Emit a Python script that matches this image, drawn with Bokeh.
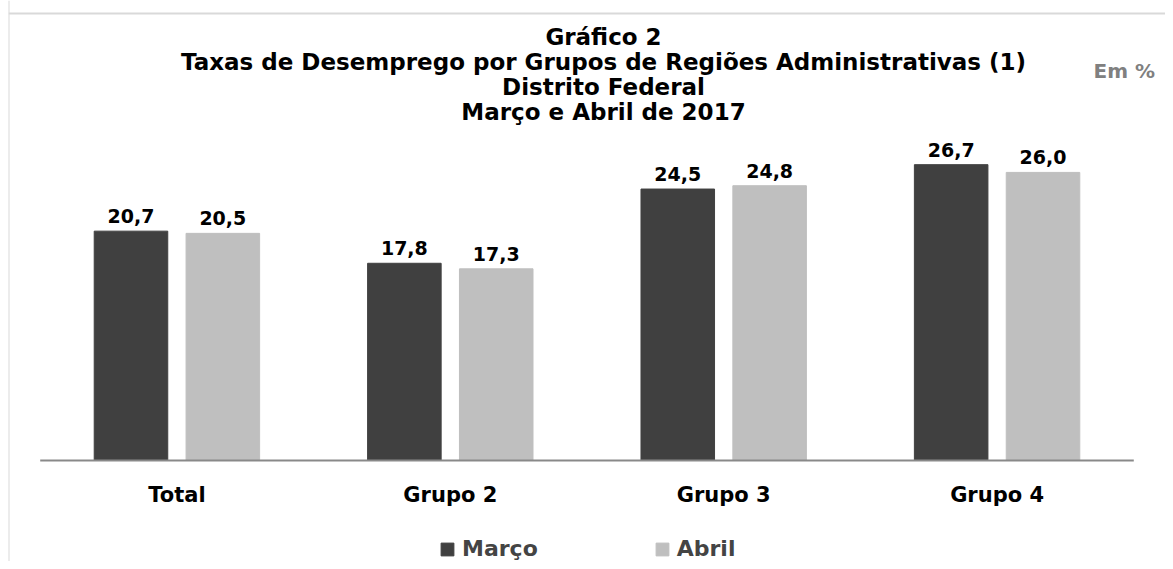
from bokeh.plotting import figure
from bokeh.models import FactorRange, Range1d, Label, Legend, LegendItem, Span, ColumnDataSource
from bokeh.transform import dodge
from bokeh.core.properties import value
from bokeh.embed import file_html
from bokeh.resources import INLINE

# ---- data ----
categories = ["Total", "Grupo 2", "Grupo 3", "Grupo 4"]
marco = [20.7, 17.8, 24.5, 26.7]
abril = [20.5, 17.3, 24.8, 26.0]
series_names = ["Março", "Abril"]
title_lines = [
    "Gráfico 2",
    "Taxas de Desemprego por Grupos de Regiões Administrativas (1)",
    "Distrito Federal",
    "Março e Abril de 2017",
]
unit_label = "Em %"

marco_labels = [f"{v:.1f}".replace(".", ",") for v in marco]
abril_labels = [f"{v:.1f}".replace(".", ",") for v in abril]

# ---- layout ----
W, H = 1165, 561
LEFT = 8
PAD = 0.116
PX_PER_UNIT = 11.08
ZERO_FROM_TOP = 460
y_top = ZERO_FROM_TOP / PX_PER_UNIT
y_bot = -(H - ZERO_FROM_TOP) / PX_PER_UNIT

DARK = "#404040"
LIGHT = "#bfbfbf"
LABEL_FONT = "DejaVu Sans"
TITLE_FONT = "DejaVu Sans"

p = figure(
    width=W, height=H,
    x_range=FactorRange(factors=categories, range_padding=PAD, range_padding_units="absolute"),
    y_range=Range1d(y_bot, y_top),
    x_axis_location=None, y_axis_location=None,
    output_backend="svg", toolbar_location=None,
    min_border_left=LEFT, min_border_right=0, min_border_top=0, min_border_bottom=0,
)
p.grid.visible = False
p.outline_line_color = None
p.background_fill_color = "white"
p.border_fill_color = "white"

# chart-area border (left and top only visible in the reference)
p.add_layout(Span(location=y_top - 13 / PX_PER_UNIT, dimension="width", line_color="#d9d9d9", line_width=2))
p.add_layout(Span(location=-PAD, dimension="height", line_color="#d9d9d9", line_width=2))

src = ColumnDataSource(dict(cat=categories, marco=marco, abril=abril, ml=marco_labels, al=abril_labels))

OFF = 0.168
BW = 0.269
r1 = p.vbar(x=dodge("cat", -OFF, range=p.x_range), top="marco", bottom=0, width=BW,
            source=src, fill_color=DARK, line_color=DARK)
r2 = p.vbar(x=dodge("cat", OFF, range=p.x_range), top="abril", bottom=0, width=BW,
            source=src, fill_color=LIGHT, line_color=LIGHT)

# category axis line
p.segment(x0=0, y0=0, x1=len(categories), y1=0, line_color="#898989", line_width=2)

# value labels
for col, lab, off in (("marco", "ml", -OFF), ("abril", "al", OFF)):
    p.text(x=dodge("cat", off, range=p.x_range), y=col, text=lab,
           source=src, text_align="center", text_baseline="alphabetic", y_offset=-15,
           text_font=value(LABEL_FONT), text_font_style="bold", text_font_size="19px",
           text_color="black")

# category labels
p.text(x="cat", y=0, text="cat", source=src, text_align="center", text_baseline="alphabetic",
       y_offset=34, text_font=value(LABEL_FONT), text_font_style="bold",
       text_font_size="21px", text_color="black")

# title lines
title_y = [H - 36, H - 61, H - 86, H - 111]
for t, yy in zip(title_lines, title_y):
    p.add_layout(Label(x=603 - LEFT, y=yy, x_units="screen", y_units="screen", text=t,
                       text_align="center", text_baseline="middle",
                       text_font=TITLE_FONT, text_font_style="bold",
                       text_font_size="23px", text_color="black"))

p.add_layout(Label(x=1093 - LEFT, y=H - 70, x_units="screen", y_units="screen", text=unit_label,
                   text_align="left", text_baseline="middle",
                   text_font=TITLE_FONT, text_font_style="bold",
                   text_font_size="20px", text_color="#808080"))

legend = Legend(
    items=[LegendItem(label=series_names[0], renderers=[r1]),
           LegendItem(label=series_names[1], renderers=[r2])],
    orientation="horizontal", location=(439 - LEFT, 0),
    glyph_width=16, glyph_height=16, label_standoff=7, spacing=116,
    padding=0, margin=0, border_line_color=None, background_fill_alpha=0,
    label_text_font=LABEL_FONT, label_text_font_style="bold",
    label_text_font_size="22px", label_height=16,
)
p.add_layout(legend)

open("out.html", "w").write(file_html(p, INLINE))
